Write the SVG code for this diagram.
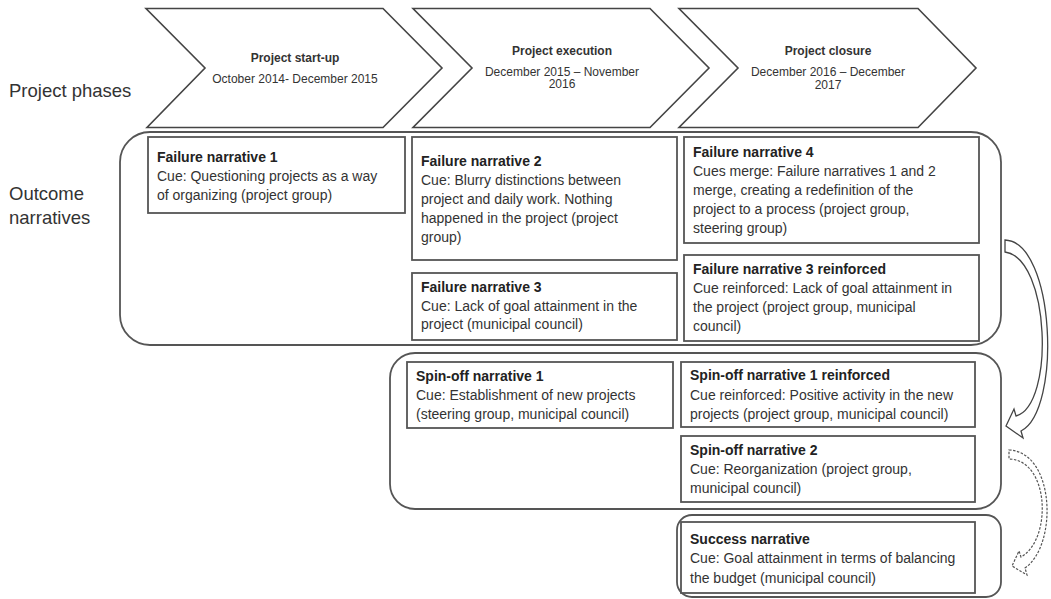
<svg xmlns="http://www.w3.org/2000/svg" width="1051" height="599" viewBox="0 0 1051 599">
<style>
.chev{fill:#fff;stroke:#444;stroke-width:1.6;stroke-linejoin:miter}
.cont{fill:none;stroke:#555;stroke-width:1.8}
.box{fill:#fff;stroke:#555;stroke-width:1.8}
.t{font-family:"Liberation Sans",Arial,sans-serif;font-size:14px;fill:#333}
.b{font-weight:bold;fill:#222}
.ct{font-family:"Liberation Sans",Arial,sans-serif;font-size:12px;fill:#333;text-anchor:middle}
.lbl{font-family:"Liberation Sans",Arial,sans-serif;font-size:18.5px;fill:#333}
.arr{fill:#fff;stroke:#444;stroke-width:1.3;stroke-linejoin:miter}
.arrd{fill:#fff;stroke:#555;stroke-width:1.2;stroke-dasharray:2.5 1.5;stroke-linejoin:miter}
</style>
<rect width="1051" height="599" fill="#fff"/>
<g id="labels">
<text class="lbl" x="9" y="97">Project phases</text>
<text class="lbl" x="9" y="200">Outcome</text>
<text class="lbl" x="9" y="224">narratives</text>
</g>
<g id="phase1">
<polygon class="chev" points="146,8.5 383,8.5 442,68 383,127.5 147,127.5 205,68"/>
<text class="ct b" x="295" y="62">Project start-up</text>
<text class="ct" x="295" y="83">October 2014- December 2015</text>
</g>
<g id="phase2">
<polygon class="chev" points="413,8.5 650,8.5 709,68 650,127.5 413,127.5 472,68"/>
<text class="ct b" x="562" y="55">Project execution</text>
<text class="ct" x="562" y="76">December 2015 – November</text>
<text class="ct" x="562" y="88">2016</text>
</g>
<g id="phase3">
<polygon class="chev" points="679,8.5 918,8.5 976,68 918,127.5 679,127.5 738,68"/>
<text class="ct b" x="828" y="55">Project closure</text>
<text class="ct" x="828" y="76">December 2016 – December</text>
<text class="ct" x="828" y="89">2017</text>
</g>
<g id="failure-group">
<rect class="cont" x="120" y="132" width="881" height="213" rx="30" ry="30"/>
</g>
<g id="spinoff-group">
<rect class="cont" x="390" y="353" width="611" height="156" rx="25" ry="25"/>
</g>
<g id="success-group">
<rect class="cont" x="677" y="515" width="324" height="82" rx="15" ry="15"/>
</g>
<g id="fn1">
<rect class="box" x="148" y="137" width="257" height="76"/>
<text class="t b" x="157" y="162">Failure narrative 1</text>
<text class="t" x="157" y="181">Cue: Questioning projects as a way</text>
<text class="t" x="157" y="200">of organizing (project group)</text>
</g>
<g id="fn2">
<rect class="box" x="412" y="137" width="265" height="123"/>
<text class="t b" x="421" y="166">Failure narrative 2</text>
<text class="t" x="421" y="185">Cue: Blurry distinctions between</text>
<text class="t" x="421" y="204">project and daily work. Nothing</text>
<text class="t" x="421" y="223">happened in the project (project</text>
<text class="t" x="421" y="242">group)</text>
</g>
<g id="fn3">
<rect class="box" x="412" y="273" width="265" height="67"/>
<text class="t b" x="421" y="292">Failure narrative 3</text>
<text class="t" x="421" y="310.5">Cue: Lack of goal attainment in the</text>
<text class="t" x="421" y="329">project (municipal council)</text>
</g>
<g id="fn4">
<rect class="box" x="684" y="137" width="295" height="106"/>
<text class="t b" x="693" y="157">Failure narrative 4</text>
<text class="t" x="693" y="176">Cues merge: Failure narratives 1 and 2</text>
<text class="t" x="693" y="195">merge, creating a redefinition of the</text>
<text class="t" x="693" y="214">project to a process (project group,</text>
<text class="t" x="693" y="233">steering group)</text>
</g>
<g id="fn3r">
<rect class="box" x="684" y="255" width="295" height="86"/>
<text class="t b" x="693" y="274">Failure narrative 3 reinforced</text>
<text class="t" x="693" y="293">Cue reinforced: Lack of goal attainment in</text>
<text class="t" x="693" y="312">the project (project group, municipal</text>
<text class="t" x="693" y="331">council)</text>
</g>
<g id="so1">
<rect class="box" x="407" y="362" width="266" height="66"/>
<text class="t b" x="416" y="380.5">Spin-off narrative 1</text>
<text class="t" x="416" y="399.5">Cue: Establishment of new projects</text>
<text class="t" x="416" y="418.5">(steering group, municipal council)</text>
</g>
<g id="so1r">
<rect class="box" x="681" y="362" width="294" height="65"/>
<text class="t b" x="690" y="380">Spin-off narrative 1 reinforced</text>
<text class="t" x="690" y="399.5">Cue reinforced: Positive activity in the new</text>
<text class="t" x="690" y="419">projects (project group, municipal council)</text>
</g>
<g id="so2">
<rect class="box" x="681" y="436" width="294" height="66"/>
<text class="t b" x="690" y="455">Spin-off narrative 2</text>
<text class="t" x="690" y="474">Cue: Reorganization (project group,</text>
<text class="t" x="690" y="493">municipal council)</text>
</g>
<g id="success">
<rect class="box" x="681" y="522" width="294" height="71"/>
<text class="t b" x="690" y="544">Success narrative</text>
<text class="t" x="690" y="563">Cue: Goal attainment in terms of balancing</text>
<text class="t" x="690" y="583">the budget (municipal council)</text>
</g>
<g id="connectors">
<path class="arr" d="M1005,240 C1055,242 1062,410 1021,431 L1023,438 L1006,426 L1014,409 L1016,416 C1055,405 1050,258 1005,252 Z"/>
<path class="arrd" d="M1009,450 C1055,452 1058,545 1025,568 L1027,575 L1012,566 L1019,551 L1021,557 C1052,540 1050,460 1009,459 Z"/>
</g>
</svg>
